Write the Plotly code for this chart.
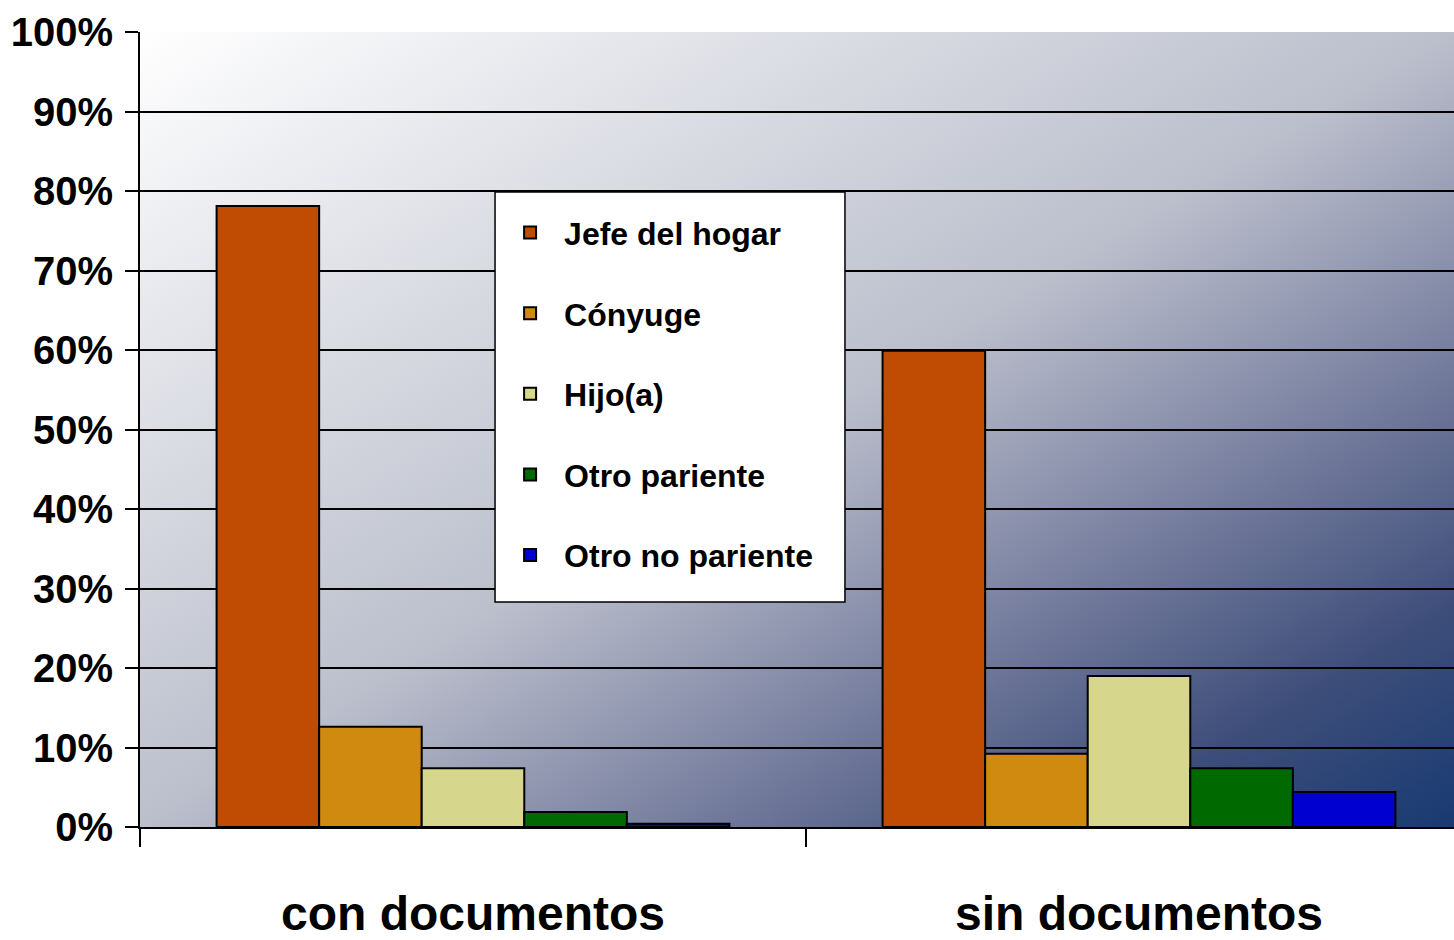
import base64
import plotly.graph_objects as go

categorias = ["con documentos", "sin documentos"]
series = ["Jefe del hogar", "Cónyuge", "Hijo(a)", "Otro pariente", "Otro no pariente"]
jefe = [0.781, 0.599]
conyuge = [0.126, 0.092]
hijo = [0.074, 0.190]
otro_pariente = [0.019, 0.074]
otro_no_pariente = [0.004, 0.044]
valores = [jefe, conyuge, hijo, otro_pariente, otro_no_pariente]
colores = ["#c04c04", "#d08a10", "#d6d68c", "#006a00", "#0000d0"]
ticks_y = [i / 10 for i in range(11)]

FONT = "Liberation Sans, Arial, sans-serif"

# fondo degradado del area de trazado
svg = """<svg xmlns='http://www.w3.org/2000/svg' width='100' height='100' preserveAspectRatio='none'>
<defs><linearGradient id='g' x1='0' y1='0' x2='1' y2='1'>
<stop offset='0' stop-color='#ffffff'/>
<stop offset='0.5' stop-color='#bbbfcc'/>
<stop offset='0.72' stop-color='#70789a'/>
<stop offset='0.86' stop-color='#3e4e7a'/>
<stop offset='1' stop-color='#183a72'/>
</linearGradient></defs>
<rect width='100' height='100' fill='url(#g)'/></svg>"""
fondo = "data:image/svg+xml;base64," + base64.b64encode(svg.encode()).decode()

fig = go.Figure()
for nombre, vals, color in zip(series, valores, colores):
    fig.add_trace(go.Bar(
        x=categorias, y=vals, name=nombre, legendgroup=nombre,
        marker=dict(color=color, line=dict(color="black", width=2)),
    ))

# caja blanca de la leyenda (tapa la cuadricula)
fig.add_shape(type="rect", xref="paper", yref="paper",
              x0=0.2702, x1=0.5365, y0=0.283, y1=0.7987,
              fillcolor="white", line=dict(color="black", width=1.5), layer="above")

fig.update_layout(
    width=1454, height=940,
    margin=dict(l=140, r=0, t=32, b=113),
    paper_bgcolor="white",
    plot_bgcolor="rgba(0,0,0,0)",
    barmode="group", bargap=0.23, bargroupgap=0,
    font=dict(family=FONT, color="black"),
    images=[dict(source=fondo, xref="paper", yref="paper", x=0, y=1,
                 sizex=1, sizey=1, sizing="stretch", layer="below")],
    legend=dict(
        x=0.271, y=0.782, xanchor="left", yanchor="top",
        bgcolor="rgba(0,0,0,0)", borderwidth=0,
        font=dict(family=FONT, size=32, color="black", weight="bold"),
        traceorder="grouped", tracegroupgap=36, entrywidth=290,
        itemwidth=58,
    ),
    showlegend=True,
)
fig.update_xaxes(
    range=[-0.5, 1.473], tickson="boundaries", ticks="outside", ticklen=18,
    tickwidth=1.5, tickcolor="black", showline=True, linecolor="black", linewidth=2,
    tickfont=dict(family=FONT, size=48, weight="bold"), ticklabelstandoff=43,
    automargin=False,
)
fig.update_yaxes(
    range=[0, 1], tickvals=ticks_y, tickformat=".0%", ticks="outside", ticklen=13,
    tickwidth=1.5, tickcolor="black", showline=True, linecolor="black", linewidth=2,
    showgrid=True, gridcolor="black", gridwidth=2, zeroline=False,
    tickfont=dict(family=FONT, size=40, weight="bold"), ticklabelstandoff=4,
    automargin=False,
)

fig.write_html("out.html", config={"displayModeBar": False},
               post_script="document.body.style.margin='0';")
